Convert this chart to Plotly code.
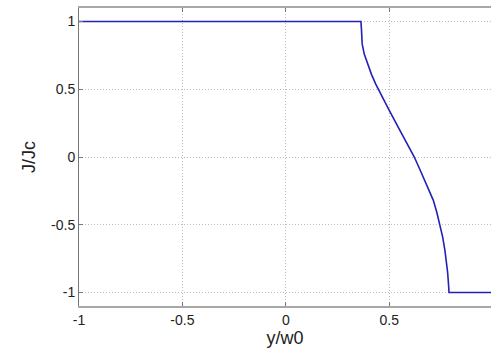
import plotly.graph_objects as go

# Data
y_w0 = [-1.0, 0.363, 0.366, 0.369, 0.379, 0.395, 0.414, 0.434, 0.447, 0.479,
        0.498, 0.543, 0.576, 0.621, 0.656, 0.685, 0.713, 0.730, 0.745, 0.758,
        0.769, 0.777, 0.782, 0.786, 0.789, 1.0]
j_jc = [1.0, 1.0, 0.93, 0.835, 0.76, 0.69, 0.61, 0.54, 0.50, 0.40,
        0.35, 0.22, 0.13, 0.0, -0.12, -0.22, -0.32, -0.41, -0.50, -0.59,
        -0.69, -0.78, -0.85, -0.93, -1.0, -1.0]

x_ticks = [-1, -0.5, 0, 0.5, 1]
x_tick_labels = ["-1", "-0.5", "0", "0.5", "1"]
y_ticks = [-1, -0.5, 0, 0.5, 1]
y_tick_labels = ["-1", "-0.5", "0", "0.5", "1"]

fig = go.Figure()
fig.add_trace(go.Scatter(x=y_w0, y=j_jc, mode="lines",
                         line=dict(color="#2222b4", width=1.6),
                         showlegend=False, hoverinfo="skip"))

font_family = "Liberation Sans, Arial, sans-serif"
fig.update_layout(
    width=491, height=348,
    margin=dict(l=79, r=0, t=8, b=42),
    paper_bgcolor="white", plot_bgcolor="white",
    font=dict(family=font_family, color="#222222", size=14),
    xaxis=dict(
        range=[-1, 0.9918],
        automargin=False,
        tickvals=x_ticks, ticktext=x_tick_labels,
        ticks="inside", ticklen=4, tickcolor="#777777",
        showline=True, linecolor="#a8a8a8", linewidth=2, mirror="ticks",
        showgrid=True, gridcolor="#bdbdbd", griddash="1px,2px", gridwidth=1,
        zeroline=False,
        tickfont=dict(size=14),
        title=dict(text="y/w0", font=dict(size=18), standoff=5),
    ),
    yaxis=dict(
        range=[-1.1, 1.1],
        automargin=False,
        tickvals=y_ticks, ticktext=y_tick_labels,
        ticks="inside", ticklen=4, tickcolor="#777777",
        showline=True, linecolor="#777777", linewidth=1, mirror=False,
        showgrid=True, gridcolor="#bdbdbd", griddash="1px,2px", gridwidth=1,
        zeroline=False,
        tickfont=dict(size=14),
        title=dict(text="J/Jc", font=dict(size=18), standoff=10),
    ),
)

fig.write_html("out.html",
               config={"displayModeBar": False},
               post_script="document.body.style.margin='0';document.body.style.overflow='hidden';")
